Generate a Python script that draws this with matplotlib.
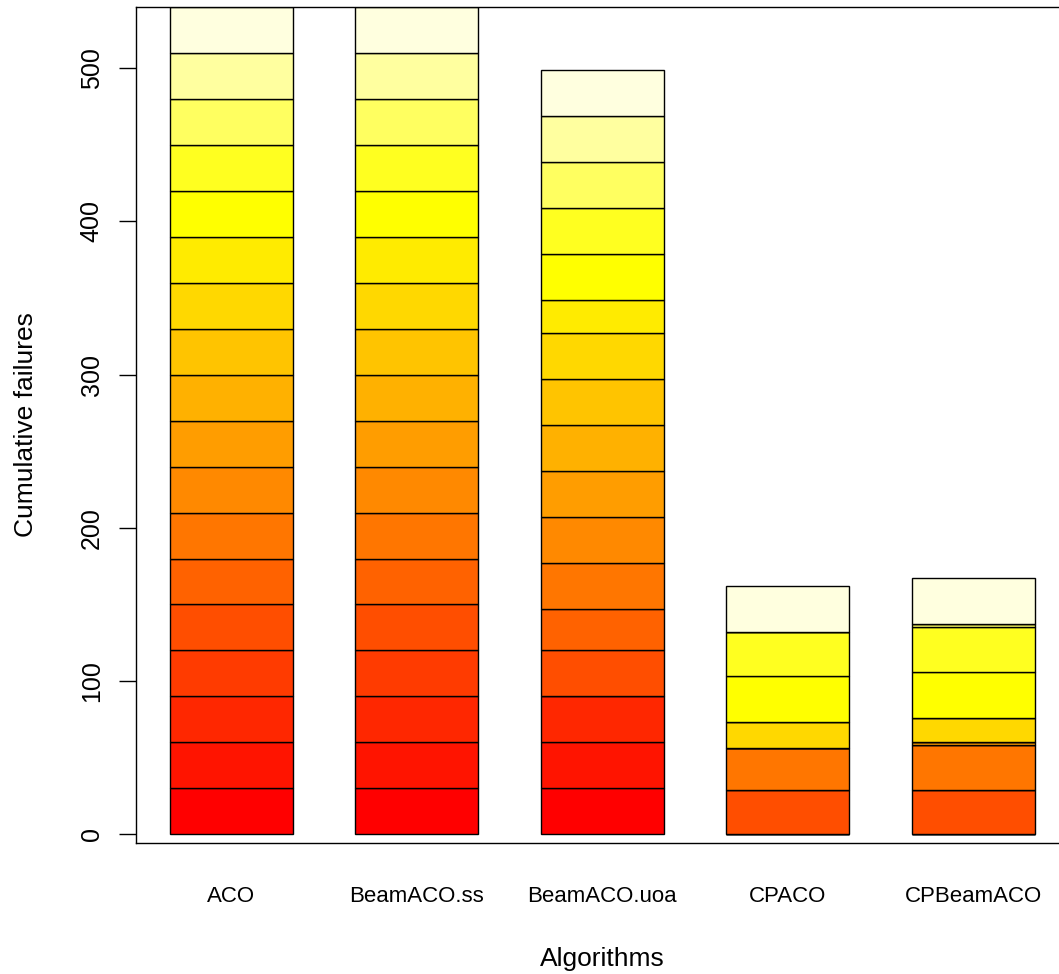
import colorsys
import numpy as np
import matplotlib
matplotlib.use("Agg")
import matplotlib.pyplot as plt

plt.rcParams['font.family'] = ['Liberation Sans', 'DejaVu Sans']

# --- data: failures per instance (18 instances, bottom to top) ---
algorithms = ['ACO', 'BeamACO.ss', 'BeamACO.uoa', 'CPACO', 'CPBeamACO']

aco = [30, 30, 30, 30, 30, 30, 30, 30, 30, 30, 30, 30, 30, 30, 30, 30, 30, 30]
beamaco_ss = [30, 30, 30, 30, 30, 30, 30, 30, 30, 30, 30, 30, 30, 30, 30, 30, 30, 30]
beamaco_uoa = [30, 30, 30, 0, 30, 27, 30, 30, 30, 30, 30, 30, 22, 30, 30, 30, 30, 30]
cpaco = [0, 0, 0, 0, 29, 0, 27, 0, 0, 0, 0, 17, 0, 30, 29, 0, 0, 30]
cpbeamaco = [0, 0, 0, 0, 29, 0, 29, 0, 2, 0, 0, 16, 0, 30, 29, 2, 0, 30]

y_ticks = [0, 100, 200, 300, 400, 500]


# R style heat.colors(n)
def heat_colors(n):
    j = n // 4
    i = n - j
    cols = [colorsys.hsv_to_rgb(h, 1, 1) for h in np.linspace(0, 1 / 6, i)]
    if j > 0:
        for s in np.linspace(1 - 1 / (2 * j), 1 / (2 * j), j):
            cols.append(colorsys.hsv_to_rgb(1 / 6, s, 1))
    return cols


data = np.array([aco, beamaco_ss, beamaco_uoa, cpaco, cpbeamaco])
n_inst = data.shape[1]
colors = heat_colors(n_inst)

fig = plt.figure(figsize=(10.59, 9.74), dpi=100)
ax = fig.add_axes([0.1281, 0.1348, 0.8813, 0.8585])

x = np.arange(len(algorithms))
bottom = np.zeros(len(algorithms))
for k in range(n_inst):
    ax.bar(x, data[:, k], bottom=bottom, width=0.663, color=colors[k],
           edgecolor='black', linewidth=1.0)
    bottom += data[:, k]

ax.set_xlim(-0.5156, 4.5156)
ax.set_ylim(-5.5, 540.3)

ax.spines['right'].set_visible(False)
for sp in ['left', 'top', 'bottom']:
    ax.spines[sp].set_linewidth(1.0)

ax.set_xticks(x)
ax.set_xticklabels(algorithms, fontsize=16)
ax.tick_params(axis='x', length=0, pad=31)

ax.set_yticks(y_ticks)
ax.set_yticklabels([str(v) for v in y_ticks], fontsize=18, rotation=90, va='center')
ax.tick_params(axis='y', length=12, width=1.0, pad=11)

ax.set_xlabel('Algorithms', fontsize=19, labelpad=29)
ax.set_ylabel('Cumulative failures', fontsize=19, labelpad=30)

fig.savefig('out.png', dpi=100)
